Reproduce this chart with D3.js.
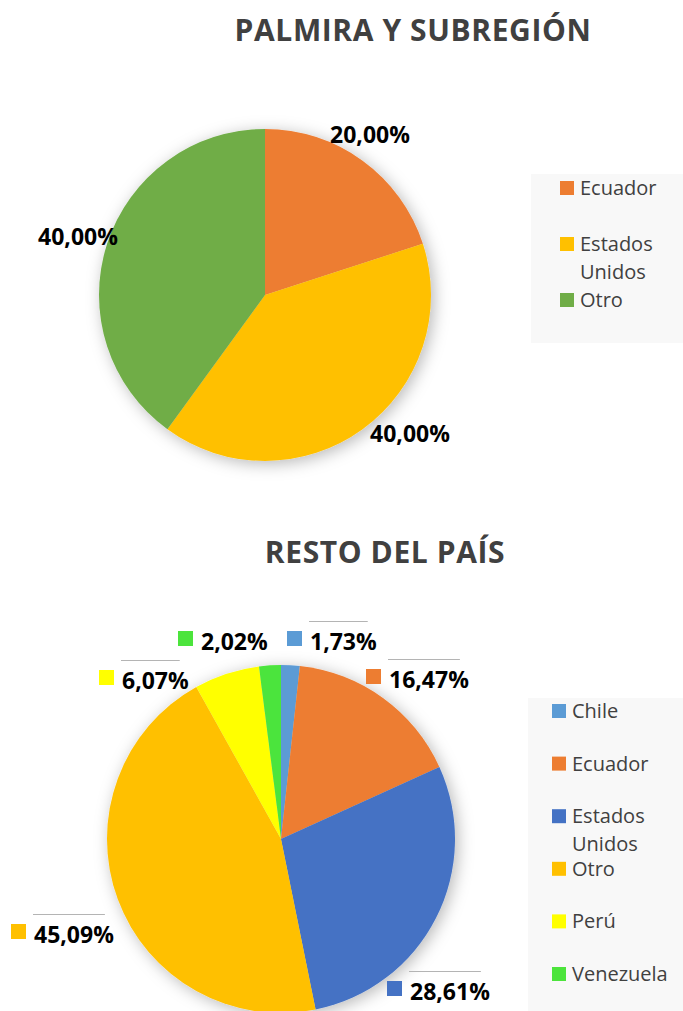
<!DOCTYPE html>
<html>
<head>
<meta charset="utf-8">
<script src="https://cdn.jsdelivr.net/npm/d3@7"></script>
<style>
  html, body { margin: 0; padding: 0; background: #fff; }
  svg { display: block; }
</style>
</head>
<body>
<svg id="chart" width="683" height="1011"></svg>
<script>
// ---- data ----
const topTitle = "PALMIRA Y SUBREGIÓN";
const topCategories = ["Ecuador", "Estados Unidos", "Otro"];
const topValues = [20.00, 40.00, 40.00];

const bottomTitle = "RESTO DEL PAÍS";
const bottomCategories = ["Chile", "Ecuador", "Estados Unidos", "Otro", "Perú", "Venezuela"];
const bottomValues = [1.73, 16.47, 28.61, 45.09, 6.07, 2.02];

// ---- styling ----
const colorOf = {
  "Chile": "#5b9bd5",
  "Ecuador": "#ed7d31",
  "Estados Unidos": "#4472c4",
  "Otro": "#ffc000",
  "Perú": "#ffff00",
  "Venezuela": "#4ce43c"
};
const topColors = { "Ecuador": "#ed7d31", "Estados Unidos": "#ffc000", "Otro": "#70ad47" };

const FONT = "'Open Sans', Lato, sans-serif";
const TEXT = "#404040";

const es = d3.formatLocale({ decimal: ",", thousands: ".", grouping: [3], currency: ["", "€"] });
const pct = v => es.format(".2f")(v) + "%";

const svg = d3.select("#chart");

const defs = svg.append("defs");
defs.append("filter")
  .attr("id", "shadow")
  .attr("x", "-20%").attr("y", "-20%")
  .attr("width", "140%").attr("height", "140%")
  .append("feDropShadow")
  .attr("dx", 3).attr("dy", 3)
  .attr("stdDeviation", 8)
  .attr("flood-color", "#000")
  .attr("flood-opacity", 0.28);

// label positions relative to pie centre (layout, not data)
const topLabelAt = [[105, -152], [145, 147], [-187, -50]];          // text centre, baseline
const bottomLabelAt = [[6, -189], [85, -151], [106, 161],
                       [-270, 104], [-182, -150], [-103, -189]];    // key left, baseline
const bottomLeader = [true, true, true, true, true, false];

function drawPie(opt) {
  const { categories, values, colors, cx, cy, r } = opt;
  const g = svg.append("g");

  // title
  g.append("text")
    .attr("x", opt.titleX)
    .attr("y", opt.titleY)
    .attr("text-anchor", "middle")
    .attr("font-family", FONT)
    .attr("font-weight", 700)
    .attr("font-size", 30)
    .attr("letter-spacing", 0.6)
    .attr("fill", TEXT)
    .text(opt.title);

  const pie = d3.pie().sort(null).value(d => d.value);
  const arcs = pie(categories.map((c, i) => ({ name: c, value: values[i] })));
  const arc = d3.arc().innerRadius(0).outerRadius(r);

  const pg = g.append("g")
    .attr("transform", `translate(${cx},${cy})`)
    .attr("filter", "url(#shadow)");
  pg.selectAll("path")
    .data(arcs)
    .join("path")
    .attr("d", arc)
    .attr("fill", d => colors[d.data.name]);

  // data labels
  const lg = g.append("g").attr("transform", `translate(${cx},${cy})`);
  arcs.forEach((d, i) => {
    const [dx, dy] = opt.labelAt[i];
    if (!opt.withKeys) {
      lg.append("text")
        .attr("x", dx).attr("y", dy)
        .attr("text-anchor", "middle")
        .attr("font-family", FONT)
        .attr("font-weight", 700)
        .attr("font-size", 23)
        .attr("fill", "#000")
        .text(pct(d.data.value));
      return;
    }
    lg.append("rect")
      .attr("x", dx).attr("y", dy - 19)
      .attr("width", 15).attr("height", 15)
      .attr("fill", colors[d.data.name]);
    const t = lg.append("text")
      .attr("x", dx + 23).attr("y", dy)
      .attr("font-family", FONT)
      .attr("font-weight", 700)
      .attr("font-size", 23)
      .attr("fill", "#000")
      .text(pct(d.data.value));
    if (opt.leader[i]) {
      const tw = t.node().getComputedTextLength();
      lg.append("line")
        .attr("x1", dx + 22).attr("x2", dx + 14 + tw)
        .attr("y1", dy - 28.5).attr("y2", dy - 28.5)
        .attr("stroke", "#b4b4b4")
        .attr("stroke-width", 1);
    }
  });

  // legend
  const L = opt.legend;
  g.append("rect")
    .attr("x", L.x).attr("y", L.y)
    .attr("width", L.w).attr("height", L.h)
    .attr("fill", "#f8f8f8");

  categories.forEach((c, i) => {
    const base = L.firstBase + i * L.step;
    g.append("rect")
      .attr("x", L.keyX).attr("y", base - 14)
      .attr("width", 14).attr("height", 14)
      .attr("fill", colors[c]);
    const t = g.append("text")
      .attr("x", L.keyX + 20).attr("y", base)
      .attr("font-family", FONT)
      .attr("font-size", 20)
      .attr("fill", TEXT)
      .text(c);
    // wrap long names onto a second line
    if (t.node().getComputedTextLength() > 95 && c.includes(" ")) {
      const words = c.split(" ");
      t.text(null);
      words.forEach((w, k) => {
        t.append("tspan")
          .attr("x", L.keyX + 20)
          .attr("dy", k === 0 ? 0 : 28)
          .text(w);
      });
    }
  });
}

drawPie({
  title: topTitle, titleX: 413, titleY: 41,
  categories: topCategories, values: topValues, colors: topColors,
  cx: 265, cy: 295, r: 166,
  labelAt: topLabelAt, withKeys: false,
  legend: { x: 531, y: 174, w: 152, h: 169, keyX: 560, firstBase: 195, step: 56 }
});

drawPie({
  title: bottomTitle, titleX: 385, titleY: 563,
  categories: bottomCategories, values: bottomValues, colors: colorOf,
  cx: 281, cy: 839, r: 174,
  labelAt: bottomLabelAt, withKeys: true, leader: bottomLeader,
  legend: { x: 528, y: 698, w: 155, h: 313, keyX: 552, firstBase: 718, step: 52.6 }
});
</script>
</body>
</html>
